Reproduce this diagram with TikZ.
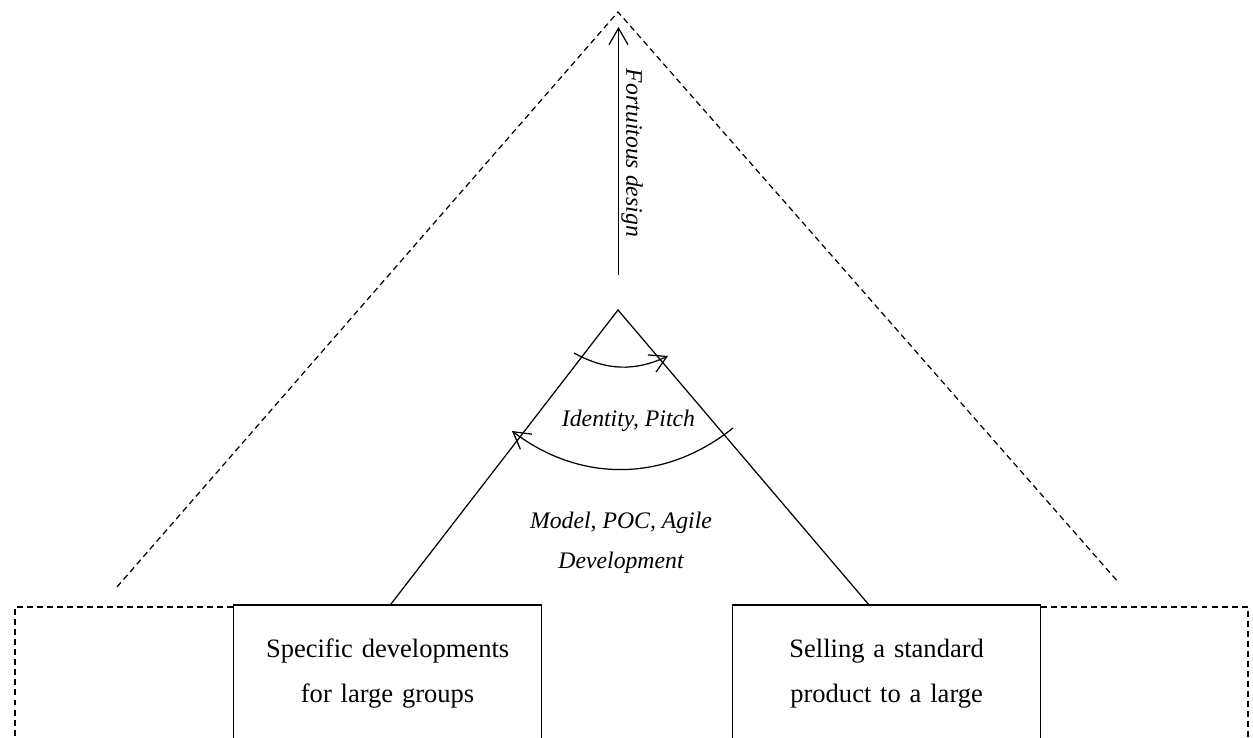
\documentclass[tikz,border=0pt]{standalone}
\usepackage{fontspec}
\setmainfont{Liberation Serif}
\usetikzlibrary{arrows.meta}
\usetikzlibrary{positioning}

\tikzset{
  guide/.style={line width=0.7pt, dash pattern=on 3.4pt off 2.3pt},
  side/.style={line width=0.7pt},
  sweep/.style={line width=0.7pt, -{Straight Barb[length=0.33cm,width=0.38cm]}},
  market/.style={draw, line width=0.7pt, fill=white, anchor=north west,
    inner xsep=0pt, inner ysep=0.54cm, text width=6.16cm, align=center,
    text height=0.5cm, text depth=3cm, font=\fontsize{15.1}{25.6}\selectfont},
  remark/.style={font=\fontsize{13.5}{22.8}\selectfont\itshape, inner sep=1pt},
}

\begin{document}
\begin{tikzpicture}
  \useasboundingbox (0,0) rectangle (25.06,14.76);
  \clip (0,0) rectangle (25.06,14.76);

  \coordinate (summit) at (12.36,14.52);
  \coordinate (hemL) at (2.34,3.02);
  \coordinate (hemR) at (22.38,3.10);
  \coordinate (peak) at (12.36,8.56);

  % the two markets
  \node[market] (specific) at (4.66,2.67) {Specific developments\\for large groups};
  \node[market] (standard) at (14.64,2.67) {Selling a standard\\product to a large};

  % dashed frame on both sides
  \draw[guide] ([yshift=-0.05cm]specific.north west) -| (0.30,-1);
  \draw[guide] ([yshift=-0.05cm]standard.north east) -| (24.96,-1);

  % outer and inner triangles
  \draw[guide] (hemL) -- (summit) -- (hemR);
  \draw[side] ([xshift=0.06cm]specific.north) -- (peak) -- ([xshift=-0.36cm]standard.north);

  % rising arrow
  \coordinate (rise) at (12.37,9.26);
  \coordinate (aim) at (12.37,14.22);
  \draw[sweep] (rise) -- (aim);
  \node[remark, rotate=-90] (fortuitous) at (12.64,11.70) {Fortuitous design};

  % the two arcs
  \coordinate (inA) at (11.48,7.70);
  \coordinate (inB) at (13.36,7.64);
  \coordinate (outA) at (14.66,6.20);
  \coordinate (outB) at (10.24,6.14);
  \draw[sweep] (inA) to[bend right=27] (inB);
  \draw[sweep] (outA) to[bend left=38] (outB);

  \node[remark, anchor=base] (identity) at (12.57,6.22) {Identity, Pitch};
  \node[remark, align=center] (agile) at (12.42,3.90) {Model, POC, Agile\\Development};
\end{tikzpicture}
\end{document}
